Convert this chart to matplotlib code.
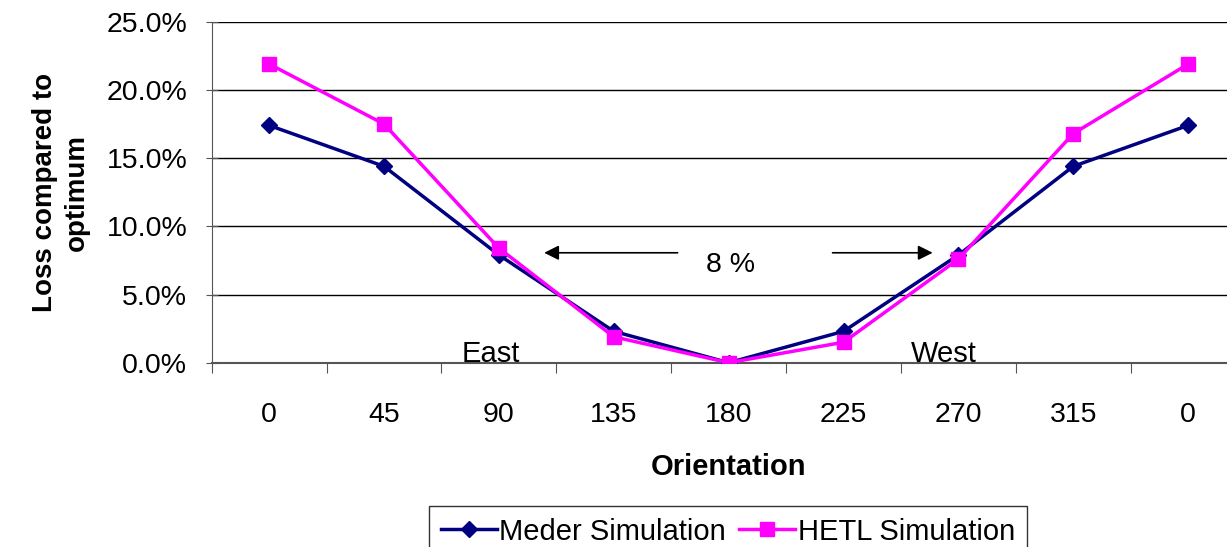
import numpy as np
import matplotlib
matplotlib.use("Agg")
import matplotlib.pyplot as plt
from matplotlib.ticker import PercentFormatter, FixedLocator

plt.rcParams['font.family'] = ['Liberation Sans', 'DejaVu Sans']

orient = ['0', '45', '90', '135', '180', '225', '270', '315', '0']
meder = [17.4, 14.4, 7.9, 2.3, 0.0, 2.3, 7.9, 14.4, 17.4]
hetl = [21.9, 17.5, 8.4, 1.9, 0.0, 1.5, 7.6, 16.8, 21.9]

x = np.arange(len(orient))
fs = 20.5

fig = plt.figure(figsize=(12.27, 5.47), dpi=100)
# plot area runs a bit past the right edge, as in the original screenshot
ax = fig.add_axes([0.1725, 0.3369, 0.8427, 0.6234])

ax.plot(x, meder, color='#000080', lw=2.5, marker='D', ms=8.5, label='Meder Simulation', zorder=3)
ax.plot(x, hetl, color='#FF00FF', lw=2.5, marker='s', ms=10, label='HETL Simulation', zorder=3)

ax.set_xlim(-0.5, 8.5)
ax.set_ylim(0, 25)
ax.yaxis.set_major_locator(FixedLocator([0, 5, 10, 15, 20, 25]))
ax.yaxis.set_major_formatter(PercentFormatter(decimals=1))
ax.grid(axis='y', color='black', lw=1.0)
ax.set_axisbelow(True)

ax.xaxis.set_major_locator(FixedLocator(np.arange(-0.5, 9, 1.0)))
ax.xaxis.set_minor_locator(FixedLocator(x))
ax.set_xticklabels([''] * 10)
ax.set_xticklabels(orient, minor=True)
ax.tick_params(axis='x', which='major', direction='out', length=7, color='#555555')
ax.tick_params(axis='x', which='minor', length=0, pad=28, labelsize=fs)
ax.tick_params(axis='y', direction='inout', length=9, color='#555555', pad=13, labelsize=fs)

for s in ['top', 'right']:
    ax.spines[s].set_visible(False)
ax.spines['left'].set_color('#555555')
ax.spines['bottom'].set_color('#555555')
ax.spines['bottom'].set_linewidth(1.5)

ax.set_xlabel('Orientation', fontsize=21, fontweight='bold', labelpad=18)
ax.set_ylabel('Loss compared to\noptimum', fontsize=20, fontweight='bold', labelpad=12,
              linespacing=1.3)

ax.text(1.93, 0.05, 'East', fontsize=21, ha='center', va='baseline')
ax.text(5.87, 0.05, 'West', fontsize=21, ha='center', va='baseline')
ax.text(4.02, 7.15, '8 %', fontsize=fs, ha='center', va='center')
ax.annotate('', xy=(2.37, 8.06), xytext=(3.58, 8.06),
            arrowprops=dict(arrowstyle='-|>', color='black', lw=1.2, mutation_scale=22))
ax.annotate('', xy=(5.80, 8.06), xytext=(4.88, 8.06),
            arrowprops=dict(arrowstyle='-|>', color='black', lw=1.2, mutation_scale=22))

fig.legend(loc='upper center', bbox_to_anchor=(728 / 1227, 1 - 506 / 547), ncol=2,
           fontsize=21, frameon=True, fancybox=False, edgecolor='black',
           handlelength=1.9, handletextpad=0.1, columnspacing=0.45, borderpad=0.4,
           borderaxespad=0)

fig.savefig('out.png', dpi=100)
